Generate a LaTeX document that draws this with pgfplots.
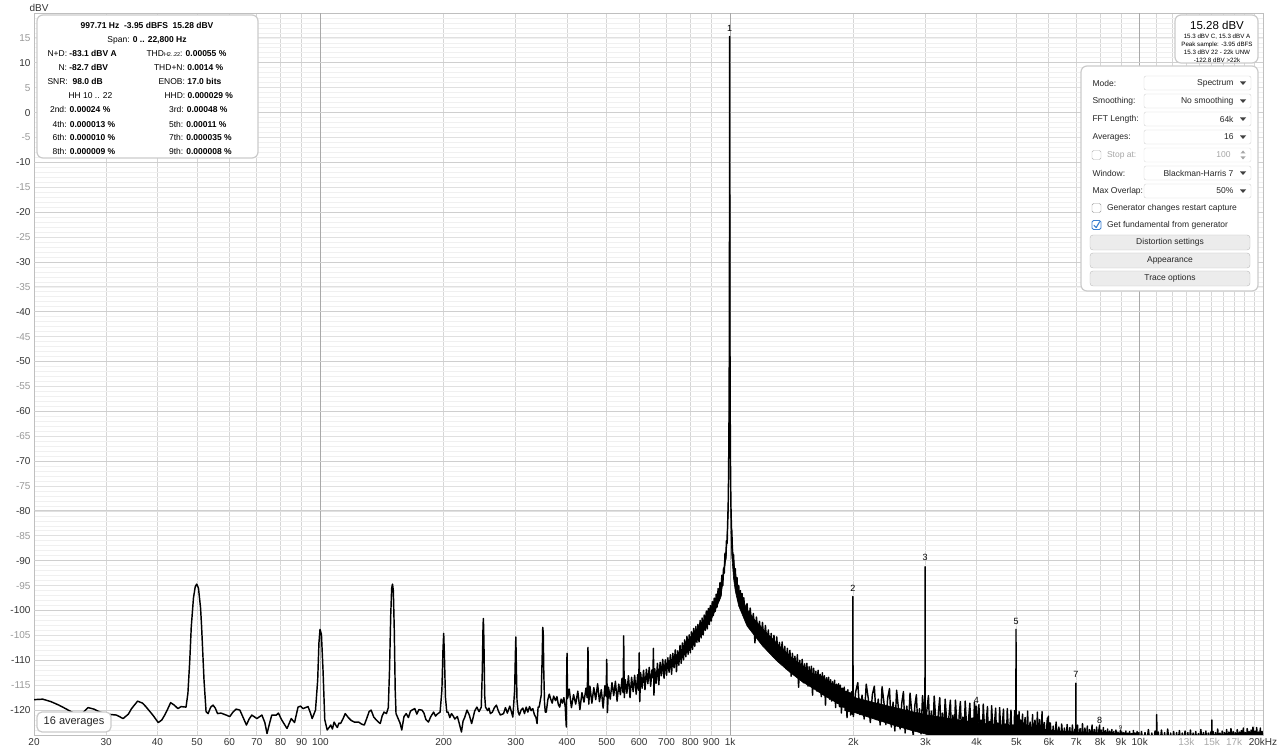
\documentclass[border=0pt]{standalone}
\usepackage{fontspec}
\setmainfont{Liberation Sans}
\usepackage{pgfplots}
\pgfplotsset{compat=1.18}
\usepackage{pgfplotstable}
\definecolor{gridmin}{HTML}{F0F0F0}
\definecolor{gridmaj}{HTML}{E0E0E0}
\definecolor{gridten}{HTML}{CFCFCF}
\definecolor{gridx}{HTML}{D6D6D6}
\definecolor{griddec}{HTML}{A8A8A8}
\definecolor{lbldark}{HTML}{333333}
\definecolor{lblgray}{HTML}{999999}
\definecolor{lbllight}{HTML}{AAAAAA}
\definecolor{boxb}{HTML}{CBCBCB}
\definecolor{ddb}{HTML}{D4D4D4}
\definecolor{btnf}{HTML}{ECECEC}
\definecolor{btnb}{HTML}{BDBDBD}
\definecolor{chkblue}{HTML}{3A7FD0}
\newcommand\pfont{\fontsize{8.5}{10}\selectfont}
\newcommand\sfont{\fontsize{6.2}{7}\selectfont}
\newcommand\hfont{\fontsize{9}{10}\selectfont}

\pgfplotstableread{
f db
20 -117.9
21 -117.8
22 -118.3
23 -119.0
24 -119.8
25 -120.6
25.6 -121.2
26.2 -120.7
27.1 -119.5
28 -119.8
29 -120.4
30.1 -120.8
31.8 -121.0
33.0 -121.7
34.0 -120.8
34.6 -119.7
35.8 -118.2
36.8 -118.6
37.5 -119.3
39.0 -121.0
40.2 -122.5
41.0 -122.0
41.7 -121.0
42.5 -119.6
43.1 -118.5
44.0 -119.0
44.9 -119.7
45.7 -119.3
47.0 -119.4
47.5 -116.6
48.0 -110
48.4 -103.3
49.0 -97.5
49.5 -95.2
49.9 -94.7
50.4 -95.5
51.0 -99.5
51.3 -103.3
52.0 -114
52.6 -120.3
53.2 -120.7
54.0 -119.4
54.7 -119.0
55.4 -119.6
56.1 -120.7
57.2 -120.6
58.5 -120.9
60.1 -121.3
61.2 -120.4
62.3 -119.8
63.6 -120.0
64.8 -121.5
66.0 -123.0
67.0 -121.8
68.0 -121.0
70.0 -121.7
72.0 -121.0
73.2 -122.5
74.1 -124.7
75.2 -122.6
76.1 -121.0
78.1 -121.0
79.0 -120.6
80.5 -122
82.9 -123.7
84.9 -121.7
86.5 -122.5
88.2 -119.4
89.5 -119.2
90.7 -119.7
93.3 -119.3
94.5 -120.5
95.5 -121.7
97.3 -120.0
98.5 -114
99.2 -106.5
99.8 -103.8
100.6 -104.8
101.5 -112
102.5 -121.9
103.9 -124.0
105 -123.5
106 -123
107 -123.8
108 -122.4
109 -123
110 -123.5
111 -122.6
112 -122.7
113.5 -121.8
115 -120.7
117 -121.5
119 -122.1
121 -122.4
124 -122.4
126 -122.8
128 -123
130 -121.5
131.5 -120.3
133 -120
135 -121.4
137 -122
139 -122.5
140 -122.7
141.5 -121.2
143 -120.4
145 -120.7
146.5 -119.5
147.5 -112
148.5 -101
149.3 -95.5
150 -94.7
150.7 -96
151.5 -104
152.3 -116
153 -120.7
155 -121.8
156.5 -122.6
158 -124
160 -121.3
162 -120.7
164 -121.5
166 -120.2
168 -119.9
170 -119.7
172 -120.8
174 -119.9
177 -120
179 -120.6
181 -121.9
183.6 -122.4
186 -121.3
189 -120.4
191 -121.2
193 -120.8
196 -120.4
198 -116
199.2 -108
200 -104.6
200.8 -109
202 -117.5
203.5 -120.4
205 -120.4
207 -121.5
209 -120.7
211 -121.2
213 -121.8
216 -121.3
218 -122.5
221 -124.4
223 -122.2
225 -121.5
228 -120
231 -121
234 -122.7
236 -121.5
238 -120.2
241 -119.4
244 -120.3
247 -119.4
248.5 -112
249.5 -103
250 -101.6
250.7 -106
251.8 -117
253 -119.4
256 -120.1
258 -119.6
260 -120.7
263 -120.4
266 -119.5
269 -119
272 -120.2
275 -121
280 -120.7
283 -119.5
286 -120.6
290 -119.2
293 -120.5
295 -121.4
298 -116
299.4 -108
300 -105.3
300.7 -110
302 -118
304 -120.4
306 -121
309 -120
312 -119.6
315 -120.7
318 -119.4
321 -120.4
324 -119.3
327 -120.1
330 -119.7
333 -120.9
336 -121.5
338 -122.7
340 -119.4
342 -119.4
346 -117
348.2 -108
349 -103.4
350 -104.5
351 -112
352.5 -118.5
354 -120.4
356 -120.4
359 -118
362 -116.8
365 -117.8
368 -118.6
371 -117.2
375 -118.1
378 -117.3
381 -118.9
384 -119.4
387 -117.8
390 -118.6
393 -117.5
396 -119.3
398.5 -123.4
399.5 -112
400 -108.6
400.6 -113
401.5 -117.6
405 -115.8
410 -119.5
415 -116.9
420 -118.8
425 -116.2
430 -119.9
435 -116.5
440 -118.4
445 -115.6
448 -117.5
449.3 -112
450 -107.4
450.7 -112
452 -118.8
455 -115.2
460 -118.6
465 -115.5
470 -117.9
475 -114.7
480 -118.3
485 -115.9
490 -119.6
495 -115.1
498 -117.2
499.3 -113
500 -109.8
500.7 -114
502 -120.5
505 -115.4
510 -117.8
515 -114.5
520 -117.1
525 -114.2
530 -118.2
535 -114.8
540 -116.9
545 -113.6
548 -116.5
549.3 -110
550 -105.1
550.7 -110
552 -117.5
555 -113.9
560 -116.6
565 -113.1
570 -117.5
575 -113.4
580 -116.3
585 -113.0
590 -116.8
595 -112.9
598 -116.0
599.3 -112
600 -108.5
600.7 -113
602 -118.3
605 -112.5
610 -115.6
615 -112.0
620 -115.9
625 -111.8
630 -114.7
635 -111.4
640 -115.2
645 -111.9
648 -113.5
649.3 -110
650 -107.6
650.7 -111
652 -117.0
655 -111.7
660 -114.6
665 -110.6
670 -114.9
675 -110.4
680 -113.1
685 -109.8
690 -113.6
695 -109.9
700 -113.0
705 -109.5
710 -112.4
715 -108.9
720 -112.8
725 -108.6
730 -111.5
735 -107.9
740 -112.3
745 -108.1
750 -111.0
755 -107.0
760 -110.6
765 -106.5
770 -109.9
775 -105.9
780 -109.3
785 -105.2
790 -108.8
795 -104.9
800 -108.5
805 -104.3
810 -107.8
815 -103.6
820 -107.2
825 -103.2
830 -106.4
835 -102.8
840 -106.3
845 -102.0
850 -105.5
855 -101.5
860 -104.9
865 -100.9
870 -104.0
875 -100.1
880 -103.7
885 -99.6
890 -102.8
895 -99.0
900 -102.1
905 -98.2
910 -101.0
915 -97.5
920 -100.2
925 -96.7
930 -99.3
935 -95.6
940 -98.0
945 -94.4
950 -97.0
955 -92.9
960 -95.0
964 -91.5
968 -92.5
972 -88.5
976 -89.8
980 -86.0
984 -86.5
987 -82.0
990 -78.0
992 -72.0
994 -62.0
995.5 -50.0
996.5 -35.0
997.3 -5.0
997.71 15.28
998.1 -5.0
999 -35.0
1000 -52.0
1001.5 -65.0
1003 -73.0
1005 -79.0
1008 -83.5
1010 -84.0
1015 -89.5
1020 -88.8
1025 -93.5
1030 -91.6
1035 -95.8
1040 -93.4
1045 -97.9
1050 -95.0
1055 -98.6
1060 -96.0
1065 -99.7
1070 -96.6
1075 -100.5
1080 -97.4
1090 -101.2
1100 -98.6
1110 -102.6
1120 -99.5
1130 -103.4
1140 -100.6
1150 -106.5
1160 -101.3
1170 -104.9
1180 -102.2
1190 -106.0
1200 -102.4
1210 -106.6
1220 -103.0
1230 -107.1
1240 -103.9
1250 -108.5
1260 -104.6
1270 -108.0
1280 -105.0
1290 -109.6
1300 -105.3
1310 -109.1
1320 -106.4
1330 -110.2
1340 -106.3
1350 -110.6
1360 -107.2
1370 -111.7
1380 -107.6
1390 -111.4
1400 -108.0
1410 -113.2
1420 -108.6
1430 -112.3
1440 -109.2
1450 -113.0
1460 -108.9
1470 -115.4
1480 -110.0
1490 -113.6
1500 -109.8
1510 -114.5
1520 -110.7
1530 -114.1
1540 -110.6
1550 -115.2
1560 -111.3
1570 -114.8
1580 -111.2
1590 -117.0
1600 -111.6
1610 -115.4
1620 -112.2
1630 -116.2
1640 -112.0
1650 -116.3
1660 -112.8
1670 -117.3
1680 -112.5
1690 -116.9
1700 -113.1
1710 -119.0
1720 -113.5
1730 -117.2
1740 -113.4
1750 -117.8
1760 -113.9
1770 -118.2
1780 -114.3
1790 -118.0
1800 -114.0
1810 -119.5
1820 -114.8
1830 -118.6
1840 -114.7
1850 -119.3
1860 -115.0
1870 -120.6
1880 -115.6
1890 -119.4
1900 -115.4
1910 -120.1
1920 -116.2
1930 -121.5
1940 -115.9
1950 -120.3
1960 -116.5
1970 -121.0
1980 -116.3
1988 -120.8
1993 -117.5
1995 -97.2
1997 -117.5
2000 -121.3
2025 -116.4
2050 -114.5
2075 -120.9
2100 -117.0
2125 -121.8
2150 -114.8
2175 -117.7
2200 -122.5
2225 -116.9
2250 -115.2
2275 -121.9
2300 -117.8
2325 -123.0
2350 -115.3
2375 -118.5
2400 -122.9
2425 -117.6
2450 -115.7
2475 -123.4
2500 -118.4
2525 -124.2
2550 -116.0
2575 -119.5
2600 -123.8
2625 -118.6
2650 -116.3
2675 -124.6
2700 -119.2
2725 -123.3
2750 -116.6
2775 -120.1
2800 -125.5
2825 -119.1
2850 -116.9
2875 -124.0
2900 -119.7
2925 -124.8
2950 -117.1
2975 -120.9
2990 -123.5
2993 -91.2
2996 -123.5
3025 -119.8
3050 -117.1
3075 -124.9
3100 -120.2
3125 -125.3
3150 -117.2
3175 -121.4
3200 -125.6
3225 -120.5
3250 -117.5
3275 -124.7
3300 -120.6
3325 -125.9
3350 -117.8
3375 -121.6
3400 -125.1
3425 -120.9
3450 -118.0
3475 -126.0
3500 -121.0
3525 -125.4
3550 -118.0
3575 -122.2
3600 -126.2
3625 -121.1
3650 -118.3
3675 -125.6
3700 -121.4
3725 -126.1
3750 -118.2
3775 -122.5
3800 -125.9
3825 -121.5
3850 -118.6
3875 -126.4
3900 -121.6
3925 -125.8
3950 -118.4
3975 -122.8
3991 -119.2
4000 -126.5
4025 -121.9
4050 -118.9
4075 -125.9
4100 -122.0
4125 -126.6
4150 -118.8
4175 -123.0
4200 -126.2
4225 -121.9
4250 -119.3
4275 -126.8
4300 -122.3
4325 -126.0
4350 -119.1
4375 -123.2
4400 -126.9
4425 -122.2
4450 -119.6
4475 -126.4
4500 -122.6
4525 -127.0
4550 -119.5
4575 -123.4
4600 -126.5
4625 -122.5
4650 -119.8
4675 -127.1
4700 -122.8
4725 -126.6
4750 -119.7
4775 -123.6
4800 -127.2
4825 -122.9
4850 -120.0
4875 -126.8
4900 -123.0
4925 -127.3
4950 -120.1
4975 -123.8
4986 -126
4989 -103.8
4992 -126
5025 -121.0
5050 -126.5
5075 -120.3
5100 -125.8
5125 -122.0
5150 -126.9
5175 -120.8
5200 -126.2
5250 -121.5
5300 -126.8
5325 -120.2
5350 -125.9
5400 -122.4
5450 -126.9
5475 -120.9
5500 -126.5
5550 -122.0
5600 -127.0
5625 -120.4
5650 -126.0
5700 -121.9
5750 -127.1
5775 -120.3
5800 -126.3
5850 -122.5
5900 -126.9
5950 -121.6
5970 -126.5
5986 -121.2
6000 -127.0
6050 -122.6
6100 -126.8
6150 -123.2
6200 -127.2
6250 -122.4
6300 -126.5
6350 -123.4
6400 -127.3
6450 -122.8
6500 -126.7
6550 -123.6
6600 -127.4
6650 -122.9
6700 -126.8
6750 -123.5
6800 -127.3
6850 -123.0
6900 -126.9
6950 -123.8
6980 -126.5
6984 -114.6
6988 -126.5
7050 -123.0
7100 -127.2
7150 -123.7
7200 -126.9
7250 -122.7
7300 -127.4
7350 -123.6
7400 -126.8
7450 -123.2
7500 -127.5
7550 -123.9
7600 -126.9
7650 -123.0
7700 -127.3
7750 -123.9
7800 -127.0
7850 -123.4
7900 -127.4
7950 -124.0
7982 -123.0
8000 -127.2
8050 -124.0
8100 -127.5
8150 -123.5
8200 -127.1
8250 -124.1
8300 -127.6
8350 -123.8
8400 -127.2
8450 -124.2
8500 -127.5
8550 -123.9
8600 -127.3
8650 -124.3
8700 -127.6
8750 -124.0
8800 -127.2
8850 -124.4
8900 -127.5
8950 -124.6
8979 -124.0
9000 -127.3
9050 -124.4
9100 -126.6
9150 -124.5
9200 -126.8
9250 -124.2
9300 -126.5
9350 -124.6
9400 -126.9
9450 -124.3
9500 -126.6
9550 -124.7
9600 -126.8
9650 -124.1
9700 -126.5
9750 -124.6
9800 -126.9
9850 -124.3
9900 -126.6
9950 -124.5
10000 -126.8
10100 -124.3
10200 -126.7
10300 -124.5
10400 -126.5
10500 -123.9
10600 -126.8
10700 -124.6
10800 -126.4
10900 -124.2
10980 -126.6
11000 -120.9
11020 -126.6
11100 -124.4
11200 -126.7
11300 -124.0
11400 -126.5
11500 -124.5
11600 -126.8
11700 -123.8
11800 -126.6
11900 -124.6
12000 -126.5
12100 -124.3
12200 -126.8
12300 -124.5
12400 -126.4
12500 -124.1
12600 -126.7
12700 -124.6
12800 -126.5
12900 -124.2
13000 -126.8
13100 -124.5
13200 -126.6
13300 -124.0
13400 -126.7
13500 -124.6
13600 -126.4
13700 -124.3
13800 -126.8
13900 -124.7
14000 -126.5
14100 -123.9
14200 -126.7
14300 -124.5
14400 -126.6
14500 -124.2
14600 -126.8
14700 -124.6
14800 -126.5
14900 -124.4
14980 -126.6
15000 -122.0
15020 -126.6
15100 -124.3
15200 -126.7
15300 -124.5
15400 -126.5
15500 -123.8
15600 -126.8
15700 -124.6
15800 -126.4
15900 -124.2
16000 -126.7
16100 -124.5
16200 -126.5
16300 -123.9
16400 -126.8
16500 -124.4
16600 -126.6
16700 -123.7
16800 -126.5
16900 -124.3
17000 -126.7
17100 -124.5
17200 -126.6
17300 -123.9
17400 -126.8
17500 -124.4
17600 -126.5
17700 -124.1
17800 -126.7
17900 -123.6
18000 -126.6
18100 -124.5
18200 -126.8
18300 -123.7
18400 -126.5
18500 -124.3
18600 -126.7
18700 -124.0
18800 -126.6
18900 -123.4
19000 -126.8
19100 -124.2
19200 -126.5
19300 -123.5
19400 -126.7
19500 -124.4
19600 -126.6
19700 -123.6
19800 -126.8
19900 -124.3
20000 -126.5
}\spec

% dense core of the noise band above the fundamental: upper edge, then lower edge back
\pgfplotstableread{
f db
1005 -79.5
1010 -85.5
1020 -89.8
1030 -92.6
1050 -95.9
1100 -99.8
1150 -101.9
1200 -103.6
1300 -106.6
1400 -109.1
1500 -111.1
1600 -112.8
1700 -114.1
1800 -115.3
1900 -116.4
2000 -117.4
2250 -118.5
2500 -119.4
2750 -120.2
3000 -120.9
3500 -121.8
4000 -122.5
4500 -122.9
5000 -123.2
6000 -124.0
7000 -124.4
8000 -124.7
9000 -125.0
20000 -125.3
20000 -127
9000 -127
3500 -127
3000 -124.8
2750 -124.0
2500 -123.0
2250 -121.8
2000 -120.4
1900 -119.4
1800 -118.3
1700 -117.1
1600 -115.7
1500 -114.3
1400 -112.4
1300 -110.1
1200 -107.1
1100 -103.1
1050 -99.1
1030 -96.1
1020 -93.6
1010 -89.1
1005 -84.0
}\coreR

% dense core of the noise band below the fundamental
\pgfplotstableread{
f db
750 -109.0
800 -106.4
850 -103.7
900 -100.6
950 -96.0
980 -87.4
990 -79.2
995 -60.0
995 -62.0
990 -80.2
980 -88.6
950 -97.3
900 -101.8
850 -104.8
800 -107.6
750 -110.1
}\coreL

\newcommand{\ddrow}[3]{%
  \node[anchor=west, font=\pfont, text=black!85] at (1089,#1) {#2};
  \draw[ddb, fill=white, rounded corners=2pt] (1144,#1-7) rectangle (1251,#1+7);
  \node[anchor=east, font=\pfont, text=black!85] at (1237,#1) {#3};
  \fill[black!75] (1240,#1-1.5) -- (1246,#1-1.5) -- (1243,#1+2) -- cycle;
}

\begin{document}
\begin{tikzpicture}[x=1pt,y=1pt]
\useasboundingbox (0,0) rectangle (1280,752);
\fill[white] (0,0) rectangle (1280,752);
\begin{axis}[
  at={(34pt,17pt)}, anchor=south west,
  scale only axis, width=1229pt, height=722pt,
  xmode=log, xmin=20, xmax=20000, ymin=-125, ymax=20,
  axis line style={draw=black!25},
  tick style={draw=none},
  xtick={20,30,40,50,60,70,80,90,100,200,300,400,500,600,700,800,900,1000,2000,3000,4000,5000,6000,7000,8000,9000,10000,13000,15000,17000,20000},
  xticklabels={20,30,40,50,60,70,80,90,100,200,300,400,500,600,700,800,900,1k,2k,3k,4k,5k,6k,7k,8k,9k,10k,\textcolor{lbllight}{13k},\textcolor{lbllight}{15k},\textcolor{lbllight}{17k},20kHz},
  minor xtick={11000,12000,14000,16000,18000,19000},
  ytick={-120,-115,...,15},
  yticklabels={-120,\textcolor{lblgray}{-115},-110,\textcolor{lblgray}{-105},-100,\textcolor{lblgray}{-95},-90,\textcolor{lblgray}{-85},-80,\textcolor{lblgray}{-75},-70,\textcolor{lblgray}{-65},-60,\textcolor{lblgray}{-55},-50,\textcolor{lblgray}{-45},-40,\textcolor{lblgray}{-35},-30,\textcolor{lblgray}{-25},-20,\textcolor{lblgray}{-15},-10,\textcolor{lblgray}{-5},0,\textcolor{lblgray}{5},10,\textcolor{lblgray}{15}},
  minor ytick={-125,-124,...,20},
  grid=both,
  major x grid style={draw=gridx, line width=0.8pt},
  minor x grid style={draw=gridx, line width=0.8pt},
  major y grid style={draw=gridmaj, line width=0.8pt},
  minor y grid style={draw=gridmin, line width=0.7pt},
  extra y ticks={-120,-110,...,10},
  extra y tick labels={},
  extra y tick style={grid=major, major y grid style={draw=gridten, line width=0.9pt}},
  extra x ticks={100,1000,10000},
  extra x tick labels={},
  extra x tick style={grid=major, major x grid style={draw=griddec, line width=0.9pt}},
  xticklabel style={font=\fontsize{10}{12}\selectfont, text=lbldark},
  yticklabel style={font=\fontsize{10}{12}\selectfont, text=lbldark},
]
\addplot[fill=black, draw=black, line width=0.6pt, line join=round] table[x=f,y=db] {\coreR};
\addplot[fill=black, draw=black, line width=0.6pt, line join=round] table[x=f,y=db] {\coreL};
\addplot[draw=black, line width=1.45pt, line join=round, no markers] table[x=f,y=db] {\spec};
\node[font=\hfont] at (axis cs:997.71,17.0) {1};
\node[font=\hfont] at (axis cs:1995,-95.5) {2};
\node[font=\hfont] at (axis cs:2993,-89.3) {3};
\node[font=\hfont] at (axis cs:3991,-118.0) {4};
\node[font=\hfont] at (axis cs:4989,-102.1) {5};
\node[font=\hfont] at (axis cs:5986,-123.0) {6};
\node[font=\hfont] at (axis cs:6984,-112.8) {7};
\node[font=\hfont] at (axis cs:7982,-122.0) {8};
\node[font=\fontsize{5.5}{6}\selectfont] at (axis cs:8979,-123.6) {9};
\end{axis}

\begin{scope}[shift={(0,752)}, yscale=-1]
  % axis unit label
  \node[font=\fontsize{10}{12}\selectfont, text=lbldark] at (39,8) {dBV};
  % info box
  \draw[boxb, line width=1.2pt, fill=white, rounded corners=6pt] (37,15) rectangle (258,158);
  \node[font=\pfont\bfseries] at (147,25) {997.71 Hz\ \ -3.95 dBFS\ \ 15.28 dBV};
  \node[font=\pfont] at (147,40) {Span: \textbf{0 .. 22,800 Hz}};
  \node[font=\pfont, anchor=west] at (44,53.3) {N+D: \textbf{-83.1 dBV A}};
  \node[font=\pfont, anchor=west] at (143,53.3) {THD{\fontsize{5.5}{6}\selectfont H2..22}: \textbf{0.00055 \%}};
  \node[font=\pfont, anchor=west] at (55,67.7) {N: \textbf{-82.7 dBV}};
  \node[font=\pfont, anchor=west] at (150.5,67.7) {THD+N: \textbf{0.0014 \%}};
  \node[font=\pfont, anchor=west] at (44,81.7) {SNR:\ \ \textbf{98.0 dB}};
  \node[font=\pfont, anchor=west] at (155,81.7) {ENOB: \textbf{17.0 bits}};
  \node[font=\pfont, anchor=west] at (65,96) {HH 10 .. 22};
  \node[font=\pfont, anchor=west] at (161,96) {HHD: \textbf{0.000029 \%}};
  \node[font=\pfont, anchor=west] at (46.5,109.3) {2nd: \textbf{0.00024 \%}};
  \node[font=\pfont, anchor=west] at (165.5,109.3) {3rd: \textbf{0.00048 \%}};
  \node[font=\pfont, anchor=west] at (49,124) {4th: \textbf{0.000013 \%}};
  \node[font=\pfont, anchor=west] at (165.5,124) {5th: \textbf{0.00011 \%}};
  \node[font=\pfont, anchor=west] at (49,137.3) {6th: \textbf{0.000010 \%}};
  \node[font=\pfont, anchor=west] at (165.5,137.3) {7th: \textbf{0.000035 \%}};
  \node[font=\pfont, anchor=west] at (49,151.7) {8th: \textbf{0.000009 \%}};
  \node[font=\pfont, anchor=west] at (165.5,151.7) {9th: \textbf{0.000008 \%}};
  % level box
  \draw[boxb, line width=1.2pt, fill=white, rounded corners=6pt] (1175,15) rectangle (1258,63);
  \node[font=\fontsize{11.5}{13}\selectfont] at (1217,25) {15.28 dBV};
  \node[font=\sfont] at (1217,36.5) {15.3 dBV C, 15.3 dBV A};
  \node[font=\sfont] at (1217,44.5) {Peak sample: -3.95 dBFS};
  \node[font=\sfont] at (1217,52.5) {15.3 dBV 22 - 22k UNW};
  \node[font=\sfont] at (1217,60) {-122.8 dBV >22k};
  % settings panel
  \draw[boxb, line width=1.2pt, fill=white, rounded corners=6pt] (1081,66) rectangle (1258,291);
  \ddrow{83}{Mode:}{Spectrum}
  \ddrow{101}{Smoothing:}{No smoothing}
  \ddrow{119}{FFT Length:}{64k}
  \ddrow{137}{Averages:}{16}
  \ddrow{173}{Window:}{Blackman-Harris 7}
  \ddrow{191}{Max Overlap:}{50\%}
  % stop at row
  \draw[black!30, fill=white, rounded corners=1.5pt] (1092,150.5) rectangle (1101,159.5);
  \node[anchor=west, font=\pfont, text=black!35] at (1103.5,155) {Stop at:};
  \draw[ddb!70, fill=white, rounded corners=2pt] (1144,148) rectangle (1251,162);
  \node[anchor=east, font=\pfont, text=black!35] at (1234,155) {100};
  \fill[black!35] (1240.5,153.5) -- (1245.5,153.5) -- (1243,150.5) -- cycle;
  \fill[black!35] (1240.5,156.5) -- (1245.5,156.5) -- (1243,159.5) -- cycle;
  % checkboxes
  \draw[black!40, fill=white, rounded corners=1.5pt] (1092,203.5) rectangle (1101,212.5);
  \node[anchor=west, font=\pfont, text=black!85] at (1103.5,208) {Generator changes restart capture};
  \draw[chkblue, line width=0.9pt, fill=white, rounded corners=1.5pt] (1092,220.5) rectangle (1101,229.5);
  \draw[chkblue, line width=1.1pt, line cap=round, line join=round] (1094,225.3) -- (1096.2,227.6) -- (1099.6,221.8);
  \node[anchor=west, font=\pfont, text=black!85] at (1103.5,225) {Get fundamental from generator};
  % buttons
  \draw[btnb, fill=btnf, rounded corners=3pt] (1090,235) rectangle (1250,250);
  \node[font=\pfont, text=black!85] at (1170,242.5) {Distortion settings};
  \draw[btnb, fill=btnf, rounded corners=3pt] (1090,253) rectangle (1250,268);
  \node[font=\pfont, text=black!85] at (1170,260.5) {Appearance};
  \draw[btnb, fill=btnf, rounded corners=3pt] (1090,271) rectangle (1250,286);
  \node[font=\pfont, text=black!85] at (1170,278.5) {Trace options};
  % averages box
  \draw[boxb, line width=1.2pt, fill=white, rounded corners=5pt] (37,712) rectangle (111,732);
  \node[font=\fontsize{11}{13}\selectfont, text=black!85] at (74,722) {16 averages};
\end{scope}
\end{tikzpicture}
\end{document}
